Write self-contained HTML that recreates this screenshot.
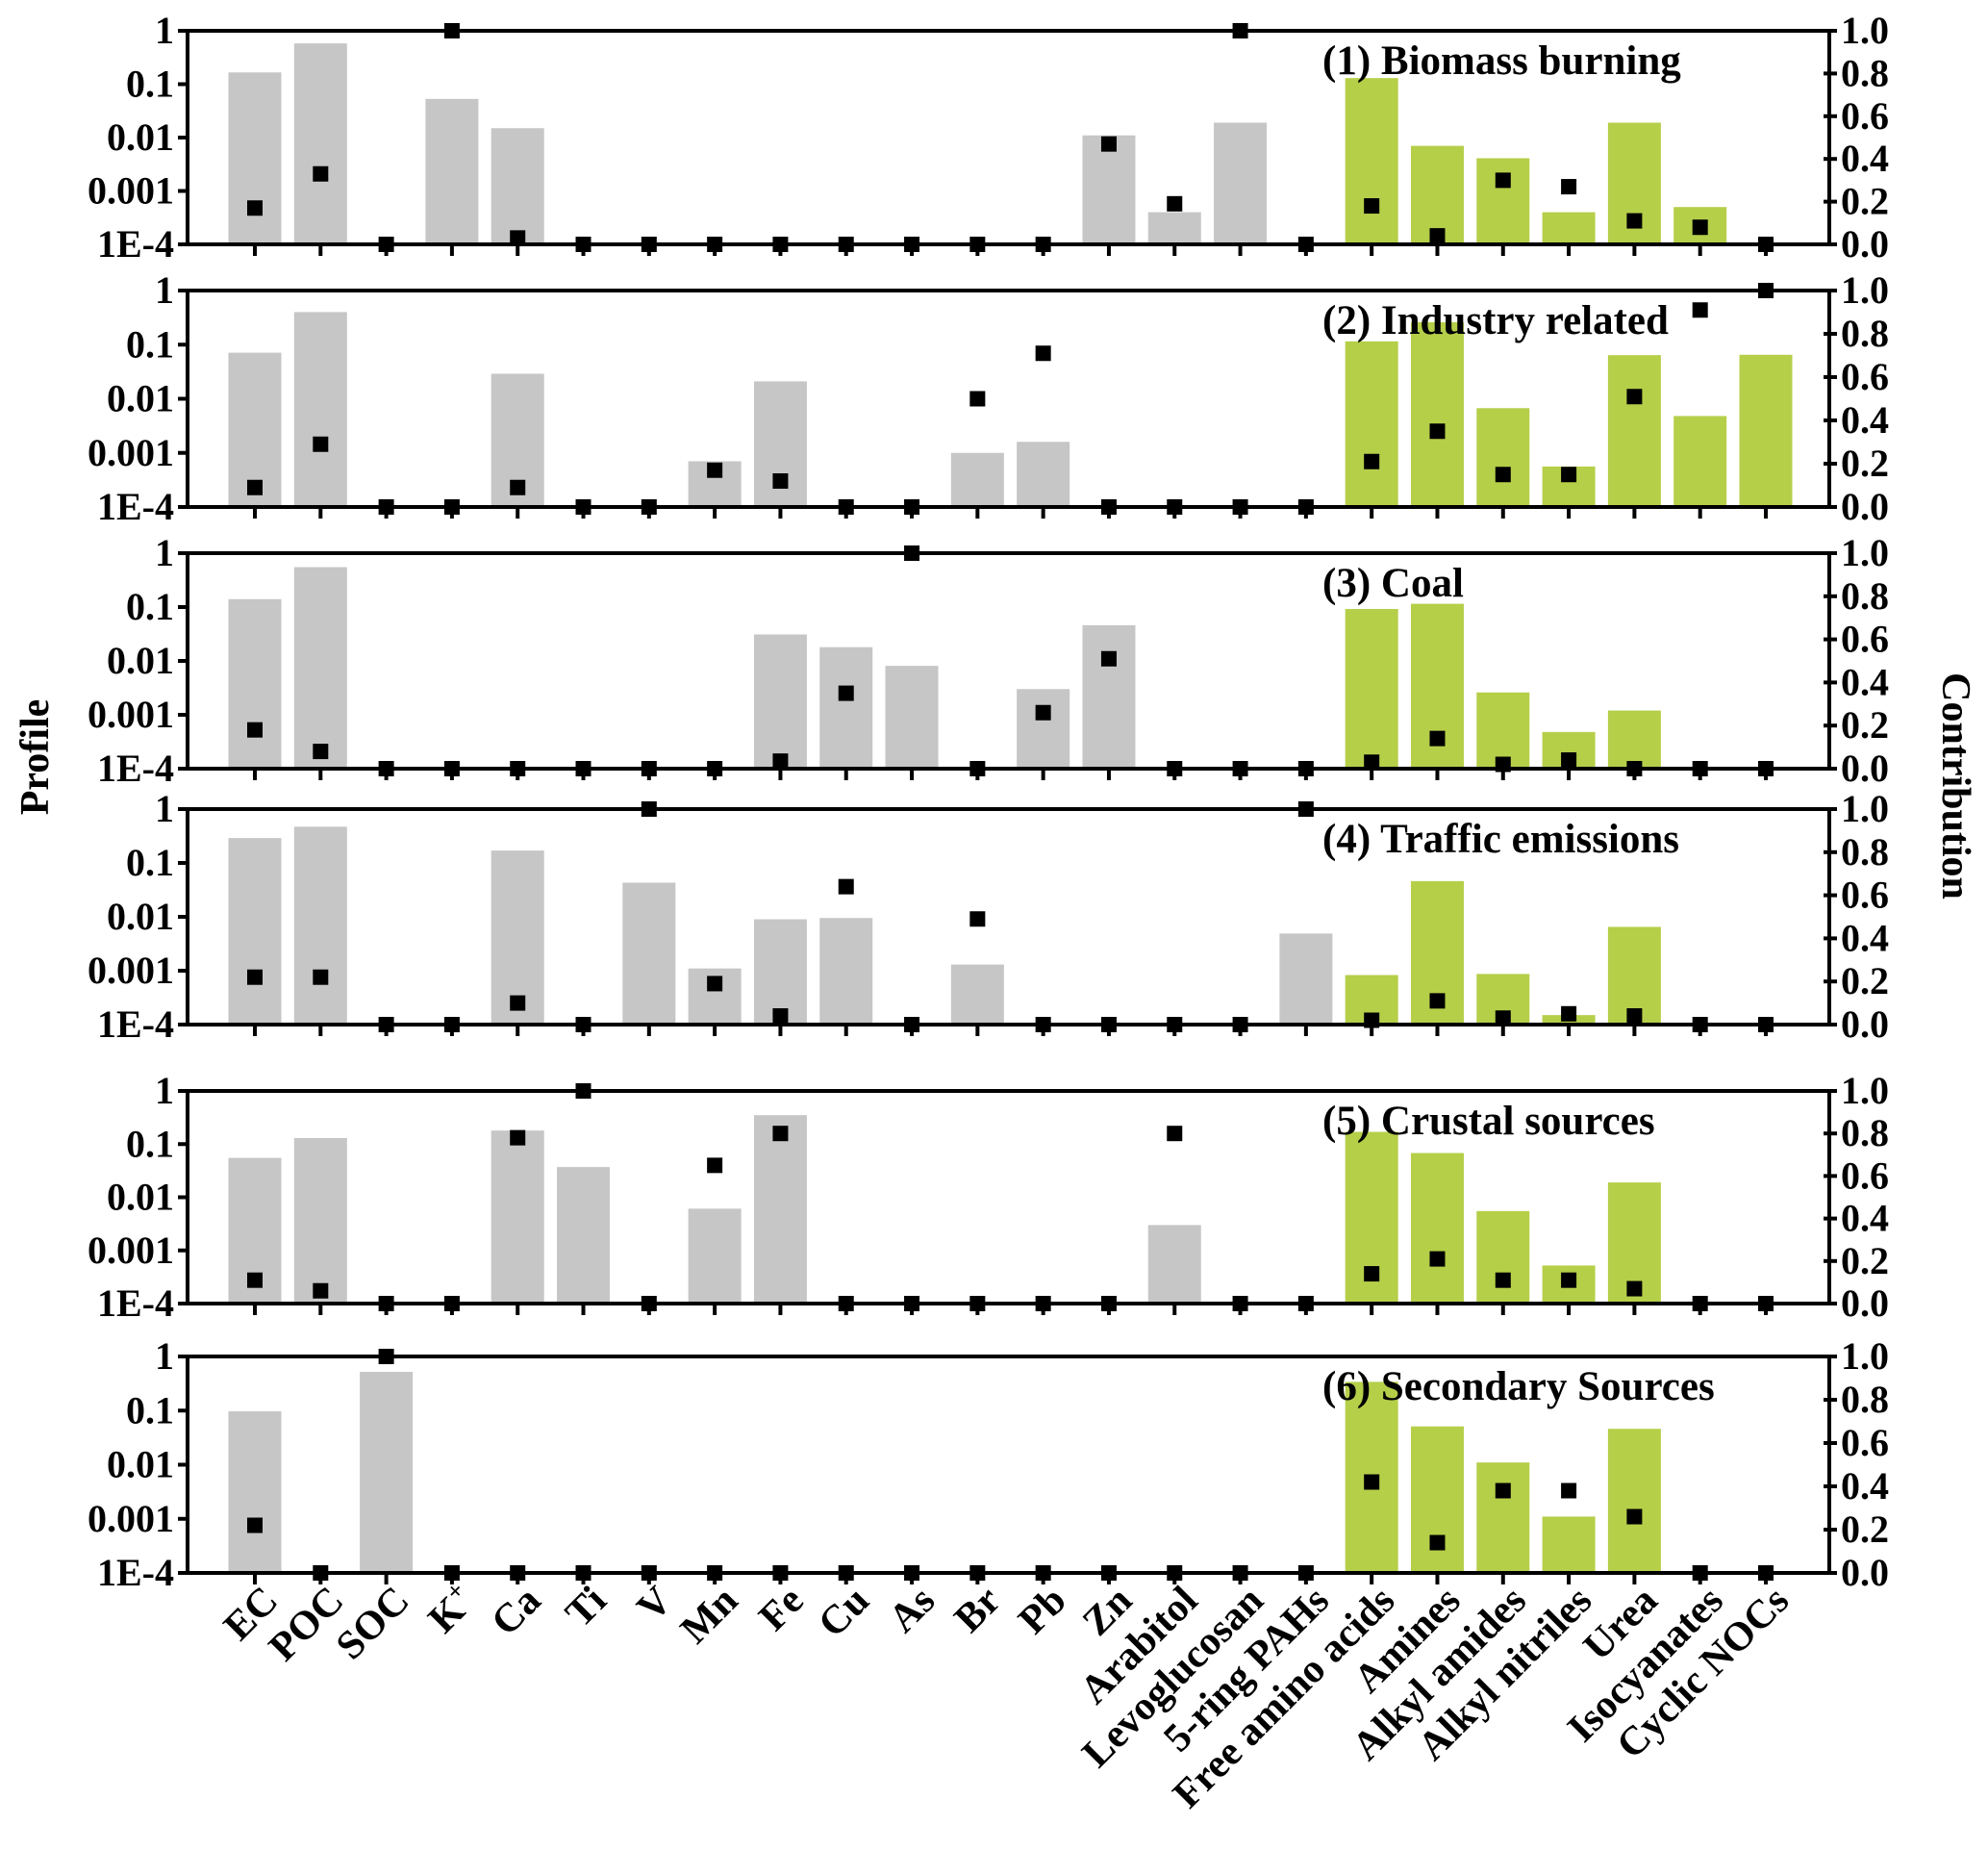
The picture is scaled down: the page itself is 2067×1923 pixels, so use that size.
<!DOCTYPE html>
<html><head><meta charset="utf-8">
<style>
html,body{margin:0;padding:0;background:#fff;}
svg{display:block;font-family:"Liberation Serif",serif;font-weight:bold;}
</style></head>
<body>
<svg id="chart" width="2067" height="1923" viewBox="0 0 2067 1923" xmlns="http://www.w3.org/2000/svg">
<text x="0" y="0" transform="translate(50,787) rotate(-90)" text-anchor="middle" font-size="42">Profile</text>
<text x="0" y="0" transform="translate(2020,817) rotate(90)" text-anchor="middle" font-size="42">Contribution</text>
</svg>
<script>
const categories = ["EC","POC","SOC","K+","Ca","Ti","V","Mn","Fe","Cu","As","Br","Pb","Zn","Arabitol","Levoglucosan","5-ring PAHs","Free amino acids","Amines","Alkyl amides","Alkyl nitriles","Urea","Isocyanates","Cyclic NOCs"];
const panelTitles = ["(1) Biomass burning","(2) Industry related","(3) Coal","(4) Traffic emissions","(5) Crustal sources","(6) Secondary Sources"];
const logTickLabels = ["1","0.1","0.01","0.001","1E-4"];
const linTickLabels = ["0.0","0.2","0.4","0.6","0.8","1.0"];
// profile values (0 = no bar)
const profile1 = [0.166,0.58,0,0.053,0.015,0,0,0,0,0,0,0,0,0.011,0.0004,0.019,0,0.13,0.007,0.0041,0.0004,0.019,0.0005,0];
const profile2 = [0.071,0.40,0,0,0.029,0,0,0.0007,0.021,0,0,0.001,0.0016,0,0,0,0,0.115,0.26,0.0067,0.00056,0.064,0.0048,0.065];
const profile3 = [0.14,0.55,0,0,0,0,0,0,0.031,0.018,0.0081,0,0.003,0.046,0,0,0,0.092,0.115,0.0026,0.00048,0.0012,0,0];
const profile4 = [0.29,0.47,0,0,0.17,0,0.043,0.0011,0.009,0.0095,0,0.0013,0,0,0,0,0.0049,0.00083,0.046,0.00087,0.00015,0.0065,0,0];
const profile5 = [0.055,0.13,0,0,0.18,0.037,0,0.0061,0.35,0,0,0,0,0,0.003,0,0,0.17,0.068,0.0055,0.00052,0.019,0,0];
const profile6 = [0.097,0,0.52,0,0,0,0,0,0,0,0,0,0,0,0,0,0,0.34,0.051,0.011,0.0011,0.046,0,0];
// contribution values
const contrib1 = [0.17,0.33,0,1.0,0.03,0,0,0,0,0,0,0,0,0.47,0.19,1.0,0,0.18,0.04,0.30,0.27,0.11,0.08,0];
const contrib2 = [0.09,0.29,0,0,0.09,0,0,0.17,0.12,0,0,0.50,0.71,0,0,0,0,0.21,0.35,0.15,0.15,0.51,0.91,1.0];
const contrib3 = [0.18,0.08,0,0,0,0,0,0,0.035,0.35,1.0,0,0.26,0.51,0,0,0,0.03,0.14,0.02,0.04,0,0,0];
const contrib4 = [0.22,0.22,0,0,0.10,0,1.0,0.19,0.04,0.64,0,0.49,0,0,0,0,1.0,0.02,0.11,0.03,0.05,0.04,0,0];
const contrib5 = [0.11,0.06,0,0,0.78,1.0,0,0.65,0.80,0,0,0,0,0,0.80,0,0,0.14,0.21,0.11,0.11,0.07,0,0];
const contrib6 = [0.22,0,1.0,0,0,0,0,0,0,0,0,0,0,0,0,0,0,0.42,0.14,0.38,0.38,0.26,0,0];

const profiles=[profile1,profile2,profile3,profile4,profile5,profile6];
const contribs=[contrib1,contrib2,contrib3,contrib4,contrib5,contrib6];
const NS="http://www.w3.org/2000/svg";
const svg=document.getElementById('chart');
const L=195,R=1902;
const tops=[32,302,575,841,1134,1410], bots=[254,527,799,1065,1355,1635];
const step=(1836-265)/23;
function xc(i){return L+70+i*step;}
function mk(tag,attrs,parent){const e=document.createElementNS(NS,tag);for(const k in attrs)e.setAttribute(k,attrs[k]);(parent||svg).appendChild(e);return e;}
for(let p=0;p<6;p++){
  const T=tops[p],B=bots[p],H=B-T;
  const yLog=v=>B-(Math.log10(v)+4)/4*H;
  const yLin=v=>B-v*H;
  const g=mk('g',{});
  
  
  for(let i=0;i<categories.length;i++){
    const v=profiles[p][i];
    if(v>0){
      const y=yLog(v);
      const r=mk('rect',{x:xc(i)-27.5,y:y,width:55,height:B-y,fill:i>=17?'#b5cf49':'#c6c6c6'},g);
      
      
    }
  }
  const f=mk('rect',{x:L,y:T,width:R-L,height:H,fill:'none',stroke:'#000','stroke-width':4},g);
  
  
  for(let k=0;k<5;k++){
    const y=T+k*H/4;
    mk('line',{x1:L-10,y1:y,x2:L,y2:y,stroke:'#000','stroke-width':4},g);
    const t=mk('text',{x:L-14,y:y+13,'text-anchor':'end','font-size':40},g);
    t.textContent=logTickLabels[k];
    
    
  }
  for(let k=0;k<6;k++){
    const y=yLin(k*0.2);
    mk('line',{x1:R-6,y1:y,x2:R+8,y2:y,stroke:'#000','stroke-width':4},g);
    const t=mk('text',{x:R+12,y:y+13,'text-anchor':'start','font-size':40},g);
    t.textContent=linTickLabels[k];
    
    
  }
  for(let i=0;i<categories.length;i++){
    mk('line',{x1:xc(i),y1:B,x2:xc(i),y2:B+12,stroke:'#000','stroke-width':4},g);
  }
  for(let i=0;i<categories.length;i++){
    const y=yLin(contribs[p][i]);
    const s=mk('rect',{x:xc(i)-8,y:y-8,width:16,height:16,fill:'#000'},g);
    
    
  }
  const tt=mk('text',{x:1375,y:T+45,'font-size':43},g);
  tt.textContent=panelTitles[p];
  
  
}
for(let i=0;i<categories.length;i++){
  const x=xc(i)+26,y=1666;
  const t=mk('text',{x:0,y:0,transform:'translate('+x+','+y+') rotate(-45)','text-anchor':'end','font-size':42});
  if(categories[i]==='K+'){t.textContent='K';const s=mk('tspan',{dy:-16,'font-size':26},t);s.textContent='+';}
  else t.textContent=categories[i];
  
  
}
</script>
</body></html>
